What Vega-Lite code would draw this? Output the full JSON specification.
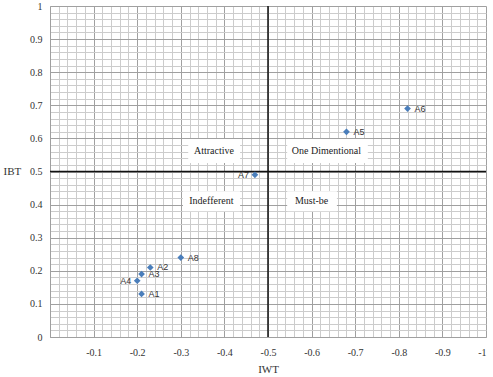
{
  "$schema": "https://vega.github.io/schema/vega-lite/v6.json",
  "autosize": "none",
  "width": 436,
  "height": 331,
  "padding": {"left": 50, "top": 6, "right": 7, "bottom": 40},
  "background": "white",
  "config": {"view": {"stroke": null}},
  "datasets": {
    "pts": [
      {"name": "A1", "x": -0.21, "y": 0.13, "side": "right"},
      {"name": "A2", "x": -0.23, "y": 0.21, "side": "right"},
      {"name": "A3", "x": -0.21, "y": 0.19, "side": "right"},
      {"name": "A4", "x": -0.2, "y": 0.17, "side": "left"},
      {"name": "A5", "x": -0.68, "y": 0.62, "side": "right"},
      {"name": "A6", "x": -0.82, "y": 0.69, "side": "right"},
      {"name": "A7", "x": -0.47, "y": 0.49, "side": "left"},
      {"name": "A8", "x": -0.3, "y": 0.24, "side": "right"}
    ],
    "quad": [
      {"label": "Attractive", "x": -0.376, "y": 0.562, "x1": -0.317, "x2": -0.436, "y1": 0.598, "y2": 0.526},
      {"label": "One Dimentional", "x": -0.634, "y": 0.562, "x1": -0.544, "x2": -0.729, "y1": 0.598, "y2": 0.526},
      {"label": "Indefferent", "x": -0.37, "y": 0.412, "x1": -0.305, "x2": -0.436, "y1": 0.44, "y2": 0.38},
      {"label": "Must-be", "x": -0.6, "y": 0.412, "x1": -0.544, "x2": -0.658, "y1": 0.44, "y2": 0.38}
    ],
    "axes": [
      {"x": -0.5, "y": 0.5}
    ]
  },
  "layer": [
    {
      "data": {"name": "quad"},
      "mark": {"type": "rect", "fill": "white", "stroke": null},
      "encoding": {
        "x": {
          "field": "x1", "type": "quantitative",
          "scale": {"domain": [-1, 0], "reverse": true, "nice": false, "zero": false},
          "axis": {
            "title": "IWT",
            "tickCount": 200,
            "values": [0, -0.02, -0.04, -0.06, -0.08, -0.1, -0.12, -0.14, -0.16, -0.18, -0.2, -0.22, -0.24, -0.26, -0.28, -0.3, -0.32, -0.34, -0.36, -0.38, -0.4, -0.42, -0.44, -0.46, -0.48, -0.5, -0.52, -0.54, -0.56, -0.58, -0.6, -0.62, -0.64, -0.66, -0.68, -0.7, -0.72, -0.74, -0.76, -0.78, -0.8, -0.82, -0.84, -0.86, -0.88, -0.9, -0.92, -0.94, -0.96, -0.98, -1],
            "grid": true,
            "gridColor": {"condition": {"test": "abs(datum.value*10 - round(datum.value*10)) < 0.01", "value": "#a0a0a0"}, "value": "#cccccc"},
            "gridWidth": 1,
            "ticks": false,
            "domainColor": "#a0a0a0",
            "labelExpr": "abs(datum.value*10 - round(datum.value*10)) < 0.01 && datum.value != 0 ? '-' + format(abs(datum.value), '~g') : ''",
            "labelOverlap": false,
            "labelFont": "Liberation Serif",
            "labelFontSize": 10,
            "labelColor": "#333333",
            "labelPadding": 10,
            "titleFont": "Liberation Serif",
            "titleFontSize": 11,
            "titleFontWeight": "normal",
            "titleColor": "#333333",
            "titlePadding": 6
          }
        },
        "x2": {"field": "x2"},
        "y": {
          "field": "y1", "type": "quantitative",
          "scale": {"domain": [0, 1], "nice": false, "zero": false},
          "axis": {
            "title": "IBT",
            "tickCount": 200,
            "values": [0, 0.02, 0.04, 0.06, 0.08, 0.1, 0.12, 0.14, 0.16, 0.18, 0.2, 0.22, 0.24, 0.26, 0.28, 0.3, 0.32, 0.34, 0.36, 0.38, 0.4, 0.42, 0.44, 0.46, 0.48, 0.5, 0.52, 0.54, 0.56, 0.58, 0.6, 0.62, 0.64, 0.66, 0.68, 0.7, 0.72, 0.74, 0.76, 0.78, 0.8, 0.82, 0.84, 0.86, 0.88, 0.9, 0.92, 0.94, 0.96, 0.98, 1],
            "grid": true,
            "gridColor": {"condition": {"test": "abs(datum.value*10 - round(datum.value*10)) < 0.01", "value": "#a0a0a0"}, "value": "#cccccc"},
            "gridWidth": 1,
            "ticks": false,
            "domainColor": "#a0a0a0",
            "labelExpr": "abs(datum.value*10 - round(datum.value*10)) < 0.01 ? format(datum.value, '~g') : ''",
            "labelOverlap": false,
            "labelFont": "Liberation Serif",
            "labelFontSize": 10,
            "labelColor": "#333333",
            "labelPadding": 8,
            "titleFont": "Liberation Serif",
            "titleFontSize": 11,
            "titleFontWeight": "normal",
            "titleColor": "#333333",
            "titleAngle": 0,
            "titleX": -47,
            "titleY": 165,
            "titleAlign": "left",
            "titleBaseline": "middle"
          }
        },
        "y2": {"field": "y2"}
      }
    },
    {
      "data": {"name": "axes"},
      "mark": {"type": "rule", "color": "#111111", "strokeWidth": 1.5},
      "encoding": {"x": {"field": "x", "type": "quantitative"}}
    },
    {
      "data": {"name": "axes"},
      "mark": {"type": "rule", "color": "#111111", "strokeWidth": 1.5},
      "encoding": {"y": {"field": "y", "type": "quantitative"}}
    },
    {
      "data": {"name": "pts"},
      "mark": {"type": "point", "shape": "diamond", "filled": true, "size": 45, "color": "#4a7ebb", "opacity": 1},
      "encoding": {
        "x": {"field": "x", "type": "quantitative"},
        "y": {"field": "y", "type": "quantitative"}
      }
    },
    {
      "data": {"name": "pts"},
      "transform": [{"filter": "datum.side == 'right'"}],
      "mark": {"type": "text", "align": "left", "dx": 7, "font": "Liberation Sans", "fontSize": 9, "color": "#333333"},
      "encoding": {
        "x": {"field": "x", "type": "quantitative"},
        "y": {"field": "y", "type": "quantitative"},
        "text": {"field": "name"}
      }
    },
    {
      "data": {"name": "pts"},
      "transform": [{"filter": "datum.side == 'left'"}],
      "mark": {"type": "text", "align": "right", "dx": -6, "font": "Liberation Sans", "fontSize": 9, "color": "#333333"},
      "encoding": {
        "x": {"field": "x", "type": "quantitative"},
        "y": {"field": "y", "type": "quantitative"},
        "text": {"field": "name"}
      }
    },
    {
      "data": {"name": "quad"},
      "mark": {"type": "text", "align": "center", "baseline": "middle", "font": "Liberation Serif", "fontSize": 10, "color": "#222222"},
      "encoding": {
        "x": {"field": "x", "type": "quantitative"},
        "y": {"field": "y", "type": "quantitative"},
        "text": {"field": "label"}
      }
    }
  ]
}
